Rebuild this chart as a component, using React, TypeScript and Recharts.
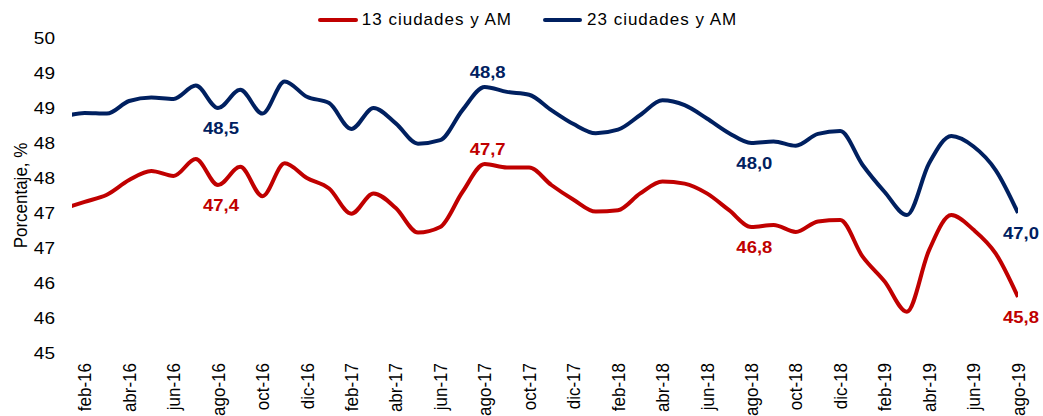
import React from 'react';
import { LineChart, Line, XAxis, YAxis, Legend, LabelList } from 'recharts';

const months = [
  'ene-16', 'feb-16', 'mar-16', 'abr-16', 'may-16', 'jun-16', 'jul-16', 'ago-16', 'sep-16', 'oct-16', 'nov-16', 'dic-16',
  'ene-17', 'feb-17', 'mar-17', 'abr-17', 'may-17', 'jun-17', 'jul-17', 'ago-17', 'sep-17', 'oct-17', 'nov-17', 'dic-17',
  'ene-18', 'feb-18', 'mar-18', 'abr-18', 'may-18', 'jun-18', 'jul-18', 'ago-18', 'sep-18', 'oct-18', 'nov-18', 'dic-18',
  'ene-19', 'feb-19', 'mar-19', 'abr-19', 'may-19', 'jun-19', 'jul-19', 'ago-19',
];

const serie13 = [
  47.06, 47.16, 47.26, 47.47, 47.6, 47.53, 47.77, 47.4, 47.66, 47.24, 47.71, 47.5,
  47.35, 46.99, 47.28, 47.07, 46.72, 46.8, 47.3, 47.7, 47.65, 47.65, 47.4, 47.19,
  47.02, 47.04, 47.28, 47.45, 47.42, 47.28, 47.04, 46.8, 46.83, 46.73, 46.88, 46.9,
  46.38, 46.02, 45.59, 46.47, 46.97, 46.76, 46.42, 45.8,
];

const serie23 = [
  48.37, 48.43, 48.42, 48.6, 48.65, 48.63, 48.82, 48.5, 48.76, 48.42, 48.88, 48.66,
  48.57, 48.2, 48.5, 48.28, 47.99, 48.04, 48.47, 48.8, 48.73, 48.69, 48.47, 48.27,
  48.14, 48.19, 48.4, 48.61, 48.54, 48.35, 48.14, 48.0, 48.02, 47.96, 48.13, 48.17,
  47.69, 47.3, 46.97, 47.71, 48.1, 47.95, 47.61, 47.0,
];

const xTickLabels = [
  'feb-16', 'abr-16', 'jun-16', 'ago-16', 'oct-16', 'dic-16',
  'feb-17', 'abr-17', 'jun-17', 'ago-17', 'oct-17', 'dic-17',
  'feb-18', 'abr-18', 'jun-18', 'ago-18', 'oct-18', 'dic-18',
  'feb-19', 'abr-19', 'jun-19', 'ago-19',
];

const yTicks = [45, 45.5, 46, 46.5, 47, 47.5, 48, 48.5, 49, 49.5];

const labeledMonths = ['ago-16', 'ago-17', 'ago-18', 'ago-19'];
const labelAboveMonths = ['ago-17'];

const seriesNames = ['13 ciudades y AM', '23 ciudades y AM'];

const RED = '#C00000';
const BLUE = '#002060';
const FONT = '"Liberation Sans", Arial, sans-serif';
const STRETCH = 1.12;

const data = months.map((m, i) => ({ i, month: m, s13: serie13[i], s23: serie23[i] }));
const xTicks = xTickLabels.map((l) => months.indexOf(l));

const XTick = (props: any) => {
  const { x, y, payload } = props;
  return (
    <g transform={`translate(${x},${y}) scale(${STRETCH},1)`}>
      <text transform="rotate(-90)" textAnchor="end" dy="0.35em" fontSize={17} fill="#000" fontFamily={FONT}>
        {months[payload.value]}
      </text>
    </g>
  );
};

const YTick = (props: any) => {
  const { x, y, payload } = props;
  return (
    <g transform={`translate(${x},${y}) scale(${STRETCH},1)`}>
      <text textAnchor="end" dy="0.35em" fontSize={17} fill="#000" fontFamily={FONT}>
        {Math.round(payload.value)}
      </text>
    </g>
  );
};

const makeLabel = (color: string) => (props: any) => {
  const { x, y, value, index } = props;
  const m = months[index];
  if (!labeledMonths.includes(m)) return null;
  const above = labelAboveMonths.includes(m);
  return (
    <g transform={`translate(${x + 3},${y + (above ? -15 : 20)}) scale(${STRETCH},1)`}>
      <text textAnchor="middle" dy="0.35em" fontSize={16.5} fontWeight="bold" fill={color} fontFamily={FONT}>
        {Number(value).toFixed(1).replace('.', ',')}
      </text>
    </g>
  );
};

const YTitle = (props: any) => {
  const vb = props.viewBox || { x: 0, y: 38, width: 72, height: 315 };
  return (
    <g transform={`translate(${vb.x + 20},${vb.y + vb.height / 2}) scale(${STRETCH},1)`}>
      <text transform="rotate(-90)" textAnchor="middle" dy="0.35em" fontSize={17} fill="#000" fontFamily={FONT}>
        Porcentaje, %
      </text>
    </g>
  );
};

const LegendContent = () => (
  <div
    style={{
      display: 'flex',
      justifyContent: 'center',
      alignItems: 'center',
      height: 26,
      paddingLeft: 12,
      fontFamily: FONT,
      fontSize: 17,
      letterSpacing: 1,
      color: '#000',
    }}
  >
    <span style={{ display: 'inline-block', width: 40, height: 4, background: RED, borderRadius: 2, marginRight: 4 }} />
    <span>{seriesNames[0]}</span>
    <span style={{ display: 'inline-block', width: 39, height: 4, background: BLUE, borderRadius: 2, marginLeft: 31, marginRight: 5 }} />
    <span>{seriesNames[1]}</span>
  </div>
);

export default function App() {
  return (
    <div style={{ position: 'absolute', left: 0, top: 0, width: 1043, height: 416, background: '#fff' }}>
      <LineChart width={1043} height={416} data={data} margin={{ top: 12, right: 25, bottom: 0, left: 0 }}>
        <Legend
          verticalAlign="top"
          align="center"
          content={LegendContent}
          wrapperStyle={{ top: 7, left: 0, width: 1043, height: 26 }}
        />
        <XAxis
          dataKey="i"
          type="number"
          domain={[0.43, 43]}
          allowDataOverflow
          ticks={xTicks}
          interval={0}
          tick={XTick}
          tickLine={false}
          axisLine={false}
          tickSize={0}
          tickMargin={10}
          height={63}
        />
        <YAxis
          type="number"
          domain={[45, 49.5]}
          ticks={yTicks}
          interval={0}
          tick={YTick}
          tickLine={false}
          axisLine={false}
          tickSize={0}
          tickMargin={17}
          width={72}
          label={{ content: YTitle }}
        />
        <Line
          type="monotone"
          dataKey="s13"
          name={seriesNames[0]}
          stroke={RED}
          strokeWidth={4}
          dot={false}
          activeDot={false}
          isAnimationActive={false}
        >
          <LabelList dataKey="s13" content={makeLabel(RED)} />
        </Line>
        <Line
          type="monotone"
          dataKey="s23"
          name={seriesNames[1]}
          stroke={BLUE}
          strokeWidth={4}
          dot={false}
          activeDot={false}
          isAnimationActive={false}
        >
          <LabelList dataKey="s23" content={makeLabel(BLUE)} />
        </Line>
      </LineChart>
    </div>
  );
}
